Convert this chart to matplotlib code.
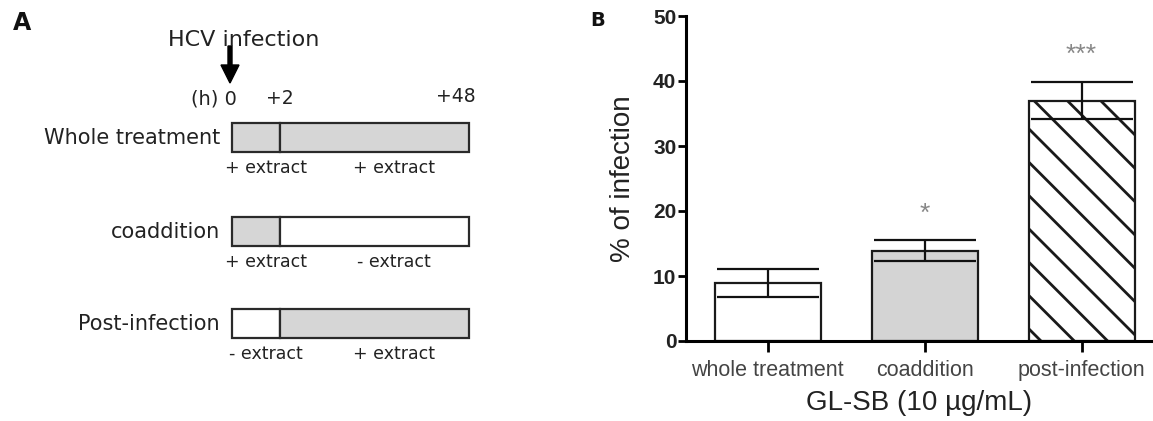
import matplotlib
matplotlib.use("Agg")
import matplotlib.pyplot as plt
from matplotlib.patches import Rectangle

# panel A schematic
row_labels = ["Whole treatment", "coaddition", "Post-infection"]
phase_treated = [(True, True), (True, False), (False, True)]
phase_texts = [("+ extract", "+ extract"), ("+ extract", "- extract"), ("- extract", "+ extract")]
time_labels = ["(h) 0", "+2", "+48"]

# panel B bars
groups = ["whole treatment", "coaddition", "post-infection"]
infection = [8.9, 13.9, 37.0]
infection_err = [2.2, 1.6, 2.8]
stars = ["", "*", "***"]
star_y = [0, 19.5, 44.0]
bar_fill = ["white", "#d4d4d4", "white"]
bar_hatch = ["", "", "\\"]

plt.rcParams["hatch.linewidth"] = 2.0
plt.rcParams["hatch.color"] = "#1a1a1a"

fig = plt.figure(figsize=(11.53, 4.21), dpi=100)

# --- A: drawn in pixel space of the figure
axa = fig.add_axes([0, 0, 1, 1])
axa.set_xlim(0, 1153)
axa.set_ylim(421, 0)
axa.axis("off")

dej = "DejaVu Sans"
axa.text(13, 23, "A", fontsize=17, fontweight="bold", family=dej, va="center", color="#111")
axa.text(244, 40, "HCV infection", fontsize=16, family=dej, ha="center", va="center", color="#222")
axa.arrow(230, 46, 0, 37, width=4, head_width=18, head_length=18,
          length_includes_head=True, color="k")
axa.text(237, 99, time_labels[0], fontsize=14, family=dej, ha="right", va="center", color="#222")
axa.text(280, 98, time_labels[1], fontsize=13.5, family=dej, ha="center", va="center", color="#222")
axa.text(456, 96, time_labels[2], fontsize=13.5, family=dej, ha="center", va="center", color="#222")

x0, x_split, x1 = 232, 280, 469
box_tops = [123, 217, 309]
box_h = 29
for lab, treated, texts, top in zip(row_labels, phase_treated, phase_texts, box_tops):
    for (a, b), on in zip([(x0, x_split), (x_split, x1)], treated):
        axa.add_patch(Rectangle((a, top), b - a, box_h, facecolor="#d6d6d6" if on else "white",
                                edgecolor="#2a2a2a", lw=1.6))
    axa.text(220, top + box_h / 2, lab, fontsize=15, family=dej, ha="right", va="center", color="#222")
    axa.text(266, top + box_h + 16, texts[0], fontsize=12.5, family=dej, ha="center", va="center", color="#222")
    axa.text(394, top + box_h + 16, texts[1], fontsize=12.5, family=dej, ha="center", va="center", color="#222")

# --- B: bar chart
arial = ["Liberation Sans", "DejaVu Sans"]
ax = fig.add_axes([686 / 1153, 80 / 421, 467 / 1153, 325 / 421])
xs = list(range(len(groups)))
bars = ax.bar(xs, infection, width=0.675, color=bar_fill, edgecolor="#1a1a1a", lw=1.6, zorder=2)
for p, h in zip(bars, bar_hatch):
    if h:
        p.set_hatch(h)
ax.errorbar(xs, infection, yerr=infection_err, fmt="none", ecolor="#111", elinewidth=1.6,
            capsize=37, capthick=1.6, zorder=3)
for i, s in enumerate(stars):
    if s:
        ax.text(i, star_y[i], s, ha="center", va="center", fontsize=19, color="#888", family=arial)

ax.set_xlim(-0.52, 2.455)
ax.set_ylim(0, 50)
ax.set_yticks([0, 10, 20, 30, 40, 50])
ax.set_xticks(xs)
ax.set_xticklabels(groups, family=arial, fontsize=15.5, color="#444")
for t in ax.get_yticklabels():
    t.set_family(arial)
    t.set_fontsize(15)
    t.set_fontweight("bold")
    t.set_color("#222")
ax.spines["top"].set_visible(False)
ax.spines["right"].set_visible(False)
ax.spines["left"].set_linewidth(2.2)
ax.spines["bottom"].set_linewidth(2.2)
ax.tick_params(axis="y", length=6, width=2, pad=1)
ax.tick_params(axis="x", length=8, width=2, pad=6)
ax.set_ylabel("% of infection", family=arial, fontsize=20, color="#222", labelpad=12)
ax.set_xlabel("GL-SB (10 \u00b5g/mL)", family=arial, fontsize=20, color="#222", labelpad=6)

axa.text(590, 21, "B", fontsize=14, fontweight="bold", family=dej, va="center", color="#111")

fig.savefig("out.png", dpi=100)
